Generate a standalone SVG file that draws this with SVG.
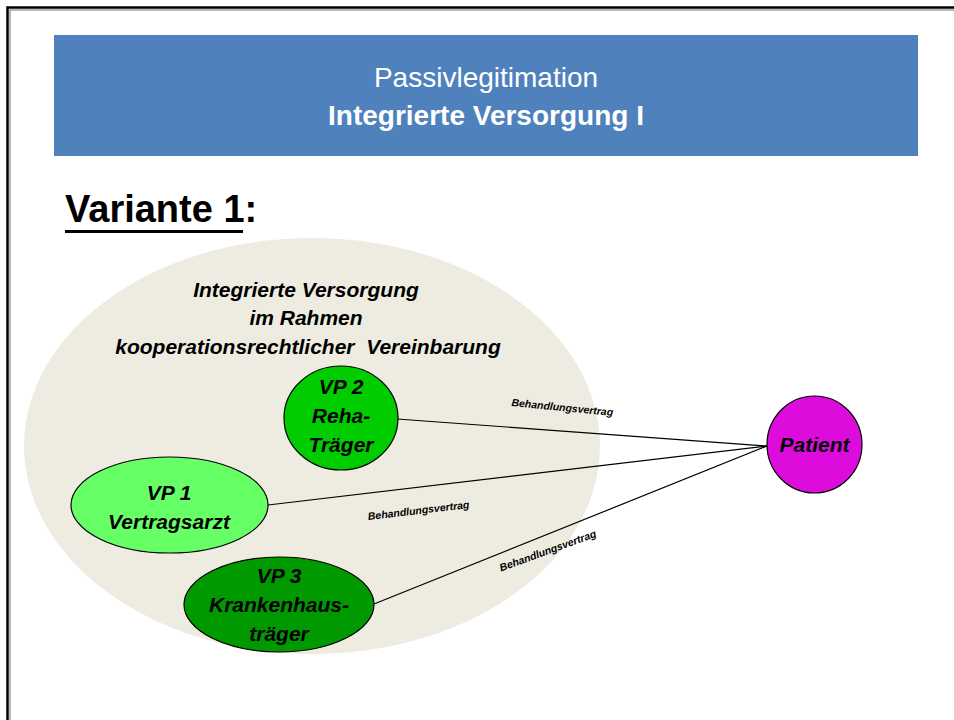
<svg xmlns="http://www.w3.org/2000/svg" width="954" height="720" viewBox="0 0 954 720">
<style>
.t{font-family:"Liberation Sans",Arial,sans-serif;fill:#000}
.bi{font-weight:bold;font-style:italic;text-anchor:middle}
.n{font-size:21px}
.lbl{font-size:10.5px}
.edge{stroke:#000;stroke-width:1.2;fill:none}
.node{stroke:#000;stroke-width:1.2}
</style>
<rect width="954" height="720" fill="#fff"/>
<path d="M8.5,720 V8.5 H954" fill="none" stroke="#a0a0a0" stroke-width="1.5" transform="translate(1.5,1.5)"/>
<path d="M7.5,720 V7.5 H954" fill="none" stroke="#000" stroke-width="2.5"/>
<g id="header">
<rect x="54" y="35" width="864" height="121" fill="#4F81BD"/>
<text class="t" x="486" y="87" font-size="28" text-anchor="middle" fill="#fff" style="fill:#fff">Passivlegitimation</text>
<text class="t" x="486" y="125" font-size="28" font-weight="bold" text-anchor="middle" style="fill:#fff">Integrierte Versorgung I</text>
</g>
<g id="variante">
<text class="t" x="65" y="222" font-size="38" font-weight="bold">Variante 1:</text>
<rect x="65" y="230" width="178" height="3" fill="#000"/>
</g>
<g id="group-ellipse">
<ellipse cx="312" cy="446" rx="288" ry="208" fill="#EEECE1"/>
<text class="t bi" font-size="21" x="306" y="297">Integrierte Versorgung</text>
<text class="t bi" font-size="21" x="306" y="325">im Rahmen</text>
<text class="t bi" font-size="21" x="308" y="354" style="white-space:pre">kooperationsrechtlicher  Vereinbarung</text>
</g>
<g id="connectors">
<line class="edge" x1="397" y1="419" x2="767" y2="446"/>
<line class="edge" x1="268" y1="505" x2="767" y2="446"/>
<line class="edge" x1="374" y1="604" x2="767" y2="446"/>
<text class="t bi lbl" transform="translate(562,411) rotate(5.6)">Behandlungsvertrag</text>
<text class="t bi lbl" transform="translate(419,514) rotate(-6.8)">Behandlungsvertrag</text>
<text class="t bi lbl" transform="translate(549,554) rotate(-20)">Behandlungsvertrag</text>
</g>
<g id="vp2">
<ellipse class="node" cx="341" cy="418" rx="57" ry="52" fill="#00CC00"/>
<text class="t bi n" x="341" y="394">VP 2</text>
<text class="t bi n" x="341" y="423">Reha-</text>
<text class="t bi n" x="341" y="452">Träger</text>
</g>
<g id="vp1">
<ellipse class="node" cx="169.5" cy="505" rx="98.5" ry="48" fill="#66FF66"/>
<text class="t bi n" x="169" y="500">VP 1</text>
<text class="t bi n" x="169" y="529">Vertragsarzt</text>
</g>
<g id="vp3">
<ellipse class="node" cx="279" cy="604.5" rx="95" ry="47.5" fill="#009900"/>
<text class="t bi n" x="279" y="583">VP 3</text>
<text class="t bi n" x="279" y="612">Krankenhaus-</text>
<text class="t bi n" x="279" y="641">träger</text>
</g>
<g id="patient">
<ellipse class="node" cx="814.5" cy="444.5" rx="47.5" ry="48.5" fill="#DD0CDD"/>
<text class="t bi n" x="814.5" y="452">Patient</text>
</g>
</svg>
